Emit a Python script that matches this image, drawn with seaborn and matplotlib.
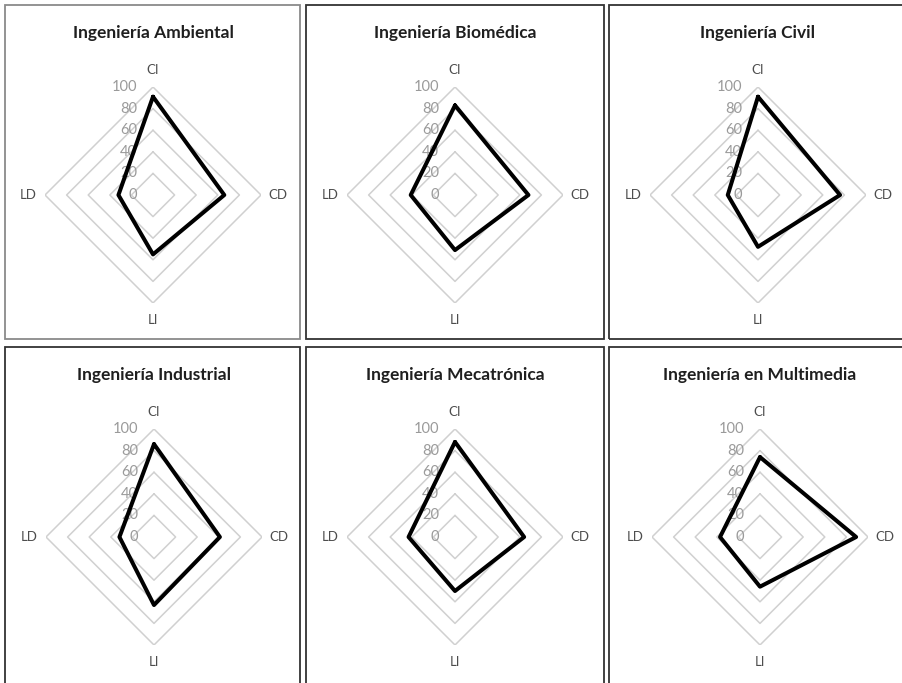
import numpy as np
import pandas as pd
import matplotlib
matplotlib.use("Agg")
import matplotlib.pyplot as plt
import seaborn as sns
from matplotlib.patches import Rectangle

# ---- data ----
programs = ["Ingeniería Ambiental", "Ingeniería Biomédica", "Ingeniería Civil",
            "Ingeniería Industrial", "Ingeniería Mecatrónica", "Ingeniería en Multimedia"]
dims = ["CI", "CD", "LI", "LD"]
ci = [91, 83, 91, 86, 88, 74]
cd = [66, 68, 76, 61, 64, 89]
li = [55, 51, 48, 63, 50, 46]
ld = [32, 41, 28, 32, 43, 37]
ticks = [0, 20, 40, 60, 80, 100]

sns.set_theme(style="white")
plt.rcParams["font.family"] = ["Lato", "DejaVu Sans"]

W, H = 902, 683
fig = plt.figure(figsize=(W / 100, H / 100), dpi=100)
fig.patch.set_facecolor("white")

R = 108
centers = [(153, 195), (455, 195), (758, 195), (154, 537), (455, 537), (760, 537)]
title_y = [33, 33, 33, 375, 375, 375]
boxes = [(5, 5, 300, 339), (306, 5, 604, 339), (609, 5, 906, 339),
         (5, 347, 300, 688), (306, 347, 604, 688), (609, 347, 906, 688)]

thetas = np.array([0, np.pi / 2, np.pi, 3 * np.pi / 2])
theta_closed = np.append(thetas, 2 * np.pi)

for i, name in enumerate(programs):
    x0, y0, x1, y1 = boxes[i]
    fig.add_artist(Rectangle((x0 / W, 1 - y1 / H), (x1 - x0) / W, (y1 - y0) / H,
                             transform=fig.transFigure, fill=False,
                             edgecolor="#8a8a8a" if i == 0 else "#333333", lw=1.3))
    cx, cy = centers[i]
    ax = fig.add_axes([(cx - R) / W, 1 - (cy + R) / H, 2 * R / W, 2 * R / H],
                      projection="polar")
    ax.set_theta_zero_location("N")
    ax.set_theta_direction(-1)
    ax.patch.set_alpha(0)

    for lv in ticks[1:]:
        ax.plot(theta_closed, [lv] * 5, color="#d0d0d0", lw=1.1, zorder=1)

    vals = [ci[i], cd[i], li[i], ld[i]]
    df = pd.DataFrame({"theta": theta_closed, "value": vals + [vals[0]]})
    sns.lineplot(data=df, x="theta", y="value", sort=False, estimator=None,
                 color="black", lw=2.9, ax=ax, zorder=3)

    ax.set_xlim(0, 2 * np.pi)
    ax.set_ylim(0, 100)
    ax.set_xticks([])
    ax.set_yticks([])
    ax.grid(False)
    ax.spines["polar"].set_visible(False)
    ax.set_xlabel("")
    ax.set_ylabel("")

    for th, lab in zip(thetas, dims):
        ax.text(th, 116, lab, ha="center", va="center", fontsize=9.5,
                color="#4d4d4d", clip_on=False)
    for t in ticks:
        ax.annotate(str(t), xy=(0, t), xytext=(-16, 0), textcoords="offset pixels",
                    ha="right", va="center", fontsize=10.5, color="#9a9a9a",
                    annotation_clip=False, zorder=2)

    fig.text(cx / W, 1 - title_y[i] / H, name, ha="center", va="center",
             fontsize=12.5, fontweight="bold", color="#1f1f1f")

fig.savefig("out.png", dpi=100)
